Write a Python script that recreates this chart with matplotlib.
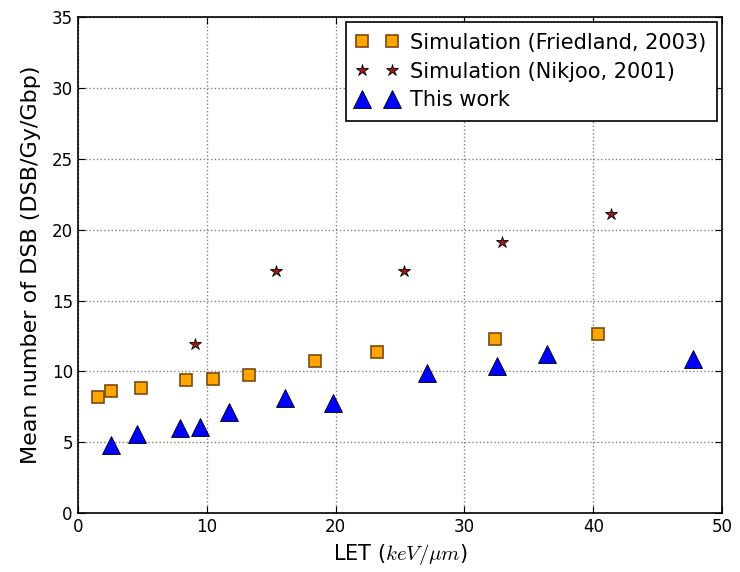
import numpy as np
import matplotlib.pyplot as plt

# data
fried_x = [1.6, 2.6, 4.9, 8.4, 10.5, 13.3, 18.4, 23.2, 32.4, 40.4]
fried_y = [8.2, 8.65, 8.8, 9.4, 9.45, 9.75, 10.7, 11.35, 12.3, 12.65]

nik_x = [9.1, 15.4, 25.3, 32.9, 41.4]
nik_y = [11.9, 17.1, 17.1, 19.1, 21.1]

work_x = [2.6, 4.6, 7.9, 9.5, 11.7, 16.1, 19.8, 27.1, 32.5, 36.4, 47.7]
work_y = [4.8, 5.6, 6.0, 6.1, 7.1, 8.1, 7.8, 9.9, 10.4, 11.2, 10.9]

plt.rcParams['xtick.direction'] = 'in'
plt.rcParams['ytick.direction'] = 'in'
plt.rcParams['mathtext.fontset'] = 'cm'

fig = plt.figure(figsize=(7.4, 5.72), dpi=100)
ax = fig.add_axes([0.105, 0.103, 0.871, 0.867])

ax.plot(fried_x, fried_y, 's', color='orange', markeredgecolor='#7a4a10',
        markeredgewidth=1.2, markersize=8, linestyle='none',
        label='Simulation (Friedland, 2003)')
ax.plot(nik_x, nik_y, '*', color='#a01818', markeredgecolor='black',
        markeredgewidth=0.6, markersize=9, linestyle='none',
        label='Simulation (Nikjoo, 2001)')
ax.plot(work_x, work_y, '^', color='blue', markeredgecolor='black',
        markeredgewidth=0.6, markersize=13, linestyle='none',
        label='This work')

ax.set_xlim(0, 50)
ax.set_ylim(0, 35)
ax.set_xticks(np.arange(0, 51, 10))
ax.set_yticks(np.arange(0, 36, 5))
ax.tick_params(labelsize=12, length=5, top=True, right=True)
ax.grid(True, linestyle=':', color='gray', linewidth=1.0)
ax.set_axisbelow(True)
for s in ax.spines.values():
    s.set_linewidth(1.2)

ax.set_xlabel(r'LET ($keV/\mu m$)', fontsize=15)
ax.set_ylabel('Mean number of DSB (DSB/Gy/Gbp)', fontsize=16, labelpad=8)

leg = ax.legend(loc='upper right', numpoints=2, fontsize=15, fancybox=False,
                framealpha=1, edgecolor='black', borderaxespad=0.25,
                labelspacing=0.42, borderpad=0.5, handletextpad=0.6)
leg.get_frame().set_linewidth(1.2)

fig.savefig('out.png', dpi=100, facecolor='white')
